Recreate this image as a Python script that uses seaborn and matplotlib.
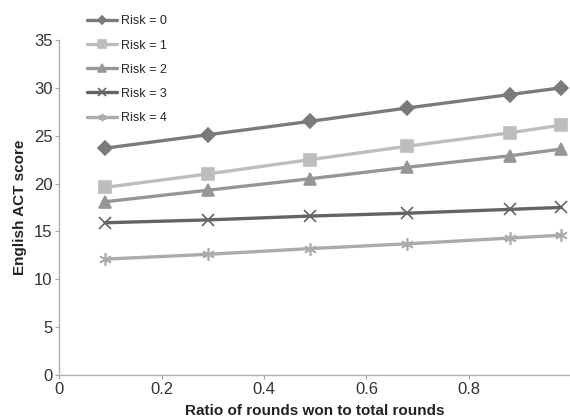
import numpy as np
import pandas as pd
import matplotlib
matplotlib.use('Agg')
import matplotlib.pyplot as plt
import seaborn as sns

# ── Data ─────────────────────────────────────────────────────────────────────
ratio = [0.09, 0.29, 0.49, 0.68, 0.88, 0.98]
risk_labels = ['Risk = 0', 'Risk = 1', 'Risk = 2', 'Risk = 3', 'Risk = 4']
risk0 = [23.7, 25.1, 26.5, 27.9, 29.3, 30.0]
risk1 = [19.6, 21.0, 22.5, 23.9, 25.3, 26.1]
risk2 = [18.1, 19.3, 20.5, 21.7, 22.9, 23.6]
risk3 = [15.9, 16.2, 16.6, 16.9, 17.3, 17.5]
risk4 = [12.1, 12.6, 13.2, 13.7, 14.3, 14.6]

rows = []
for lab, vals in zip(risk_labels, [risk0, risk1, risk2, risk3, risk4]):
    for x, y in zip(ratio, vals):
        rows.append({'ratio': x, 'score': y, 'risk': lab})
df = pd.DataFrame(rows)

palette = {'Risk = 0': '#7a7a7c', 'Risk = 1': '#bdbdbf', 'Risk = 2': '#969698',
           'Risk = 3': '#646466', 'Risk = 4': '#ababad'}
markers = {'Risk = 0': 'D', 'Risk = 1': 's', 'Risk = 2': '^',
           'Risk = 3': 'x', 'Risk = 4': (6, 2, 0)}
msizes = {'Risk = 0': 7, 'Risk = 1': 9, 'Risk = 2': 8.5,
          'Risk = 3': 9, 'Risk = 4': 9}

# ── Plot ─────────────────────────────────────────────────────────────────────
sns.set_style('white')
plt.rcParams['font.family'] = ['Liberation Sans', 'DejaVu Sans']

fig = plt.figure(figsize=(5.7, 4.17), dpi=100)
ax = fig.add_axes([0.104, 0.101, 0.898, 0.803])

for lab in risk_labels:
    sub = df[df['risk'] == lab]
    sns.lineplot(data=sub, x='ratio', y='score', color=palette[lab],
                 marker=markers[lab], markersize=msizes[lab],
                 markeredgecolor=palette[lab], markeredgewidth=1.2,
                 linewidth=2.4, label=lab, ax=ax)

ax.set_xlim(0, 1)
ax.set_ylim(0, 35)
ax.set_xticks([0, 0.2, 0.4, 0.6, 0.8])
ax.set_xticklabels(['0', '0.2', '0.4', '0.6', '0.8'])
ax.set_yticks(range(0, 36, 5))
ax.tick_params(axis='both', labelsize=12, length=3, width=0.8,
               color='#a0a0a0', labelcolor='#333333', direction='out', pad=2)
ax.tick_params(axis='both', which='both', bottom=True, left=True)
sns.despine(ax=ax)
for s in ['left', 'bottom']:
    ax.spines[s].set_color('#b0b0b0')
    ax.spines[s].set_linewidth(1.0)

ax.set_xlabel('Ratio of rounds won to total rounds', fontsize=11,
              fontweight='bold', color='#222222', labelpad=5)
ax.set_ylabel('English ACT score', fontsize=11, fontweight='bold',
              color='#222222', labelpad=5)

h, l = ax.get_legend_handles_labels()
ax.legend(h, l, loc='upper left', bbox_to_anchor=(0.143, 0.975),
          bbox_transform=fig.transFigure, frameon=False, fontsize=9,
          handlelength=2.4, handletextpad=0.35, labelspacing=0.97,
          markerscale=0.6, borderaxespad=0)

fig.savefig('out.png', dpi=100)
